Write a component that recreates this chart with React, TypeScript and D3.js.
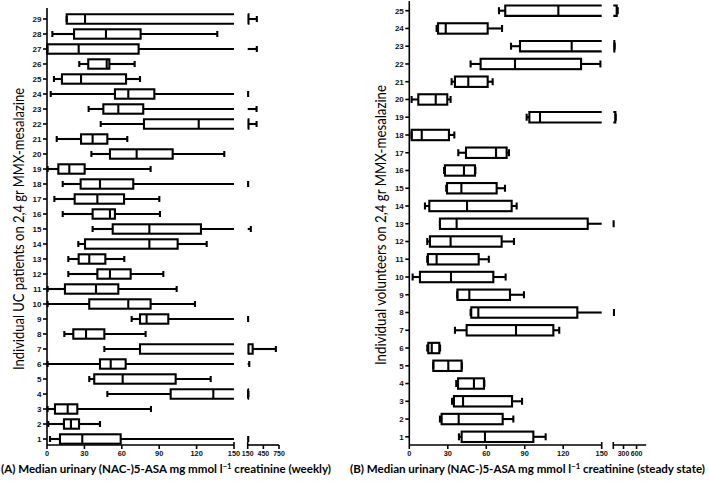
import React from "react";
import * as d3 from "d3";

// ---------- Panel A: individual UC patients (weekly) ----------
const ucPatients = [1, 2, 3, 4, 5, 6, 7, 8, 9, 10, 11, 12, 13, 14, 15, 16, 17, 18, 19, 20, 21, 22, 23, 24, 25, 26, 27, 28, 29];
const ucMin = [2.4, 1.0, 0.5, 48.4, 33.9, 0.5, 46.0, 13.9, 67.9, 0.5, 0.5, 17.1, 17.1, 25.1, 36.6, 12.6, 5.9, 12.6, 0.5, 35.6, 7.8, 43.1, 33.4, 3.0, 5.6, 25.9, 0.3, 4.3, 15.8];
const ucQ1 = [10.4, 13.6, 6.4, 99.2, 37.9, 42.5, 74.6, 21.1, 74.6, 33.9, 14.4, 40.4, 25.4, 30.5, 52.7, 36.6, 22.2, 27.0, 9.1, 50.5, 27.3, 77.8, 45.2, 54.5, 12.0, 33.1, 0.3, 21.7, 15.8];
const ucMed = [28.3, 19.2, 16.6, 133.4, 60.7, 51.1, 165, 31.3, 79.9, 65.2, 39.3, 50.5, 33.9, 82.1, 82.1, 50.5, 40.4, 42.5, 17.9, 71.9, 36.6, 121.7, 57.2, 65.2, 27.3, 47.9, 25.4, 47.3, 30.5];
const ucQ3 = [59.1, 25.7, 24.3, 158, 103.2, 63.1, 245, 46.0, 97.3, 83.1, 57.2, 67.1, 46.8, 104.8, 123.5, 54.5, 61.8, 69.2, 30.2, 100.8, 48.4, 165, 77.2, 86.1, 63.4, 50.0, 73.5, 75.1, 165];
const ucMax = [160, 42.5, 83.4, 163, 131.3, 180, 690, 79.1, 158, 118.7, 104.0, 93.3, 62.0, 128.1, 210, 90.6, 90.1, 158, 83.1, 142.2, 64.4, 320, 320, 158, 74.6, 70.3, 325, 136.6, 325];

// ---------- Panel B: individual volunteers (steady state) ----------
const volunteers = [1, 2, 3, 4, 5, 6, 7, 8, 9, 10, 11, 12, 13, 14, 15, 16, 17, 18, 19, 20, 21, 22, 23, 24, 25];
const volMin = [38.7, 23.9, 33.3, 36.6, 18.7, 14.0, 35.6, 47.8, 37.4, 2.6, 14.0, 14.0, 23.9, 12.2, 28.8, 27.1, 38.2, 1.8, 91.5, 1.8, 33.0, 47.8, 79.3, 21.3, 69.9];
const volQ1 = [40.8, 25.2, 34.8, 38.0, 18.7, 14.8, 44.7, 48.3, 37.5, 8.3, 14.5, 16.1, 23.9, 15.6, 29.4, 27.8, 44.2, 1.8, 93.6, 7.0, 35.6, 55.6, 86.3, 22.4, 74.8];
const volMed = [59.0, 38.5, 41.9, 50.4, 30.4, 17.5, 83.2, 53.8, 46.8, 32.5, 21.3, 32.2, 36.9, 45.0, 40.6, 42.6, 67.6, 9.7, 101.9, 20.6, 46.0, 82.4, 126.6, 28.4, 116.2];
const volQ3 = [96.7, 72.8, 80.1, 58.2, 40.8, 23.4, 112.3, 131, 78.5, 65.5, 54.1, 72.0, 139.1, 79.8, 68.1, 51.2, 75.9, 30.9, 180, 29.6, 61.1, 133.9, 165, 61.1, 200];
const volMax = [106.3, 81.1, 87.9, 58.5, 41, 24, 116.9, 160, 89.4, 75.1, 62, 81.6, 155, 83.7, 74.6, 51.5, 77.7, 35.1, 185, 32.2, 65.0, 149, 170, 72.3, 215];

// ---------- axis ticks ----------
const mainTicks = [0, 30, 60, 90, 120, 150];
const brkTicksA = [150, 450, 750];
const brkLabelsA = ["150", "450", "750"];
const brkTicksB = [150, 300, 600];
const brkLabelsB = ["", "300", "600"];

const BREAK = 150;

type PanelProps = {
  ids: number[];
  mins: number[];
  q1s: number[];
  meds: number[];
  q3s: number[];
  maxs: number[];
  x: d3.ScaleLinear<number, number>;
  x2: d3.ScaleLinear<number, number>;
  y: d3.ScaleLinear<number, number>;
  halfH: number;
  capH: number;
  axisTop: number;
  axisY: number;
  brkTicks: number[];
  brkLabels: string[];
  brkEnd: number;
};

function Panel(p: PanelProps) {
  const sw = 2.1;
  const axisX = p.x(0);
  const tickFont = { fontFamily: "'Liberation Sans', Arial, sans-serif", fontWeight: 700 as const, fill: "#111" };
  return (
    <g>
      {p.ids.map((id, i) => {
        const cy = p.y(id);
        const mn = p.mins[i], q1 = p.q1s[i], md = p.meds[i], q3 = p.q3s[i], mx = p.maxs[i];
        const t = cy - p.halfH, b = cy + p.halfH;
        const els: React.ReactNode[] = [];
        if (mn < q1) {
          els.push(<line key="lw" x1={p.x(mn)} x2={p.x(q1)} y1={cy} y2={cy} />);
        }
        els.push(<line key="lc" x1={p.x(mn)} x2={p.x(mn)} y1={cy - p.capH} y2={cy + p.capH} />);
        if (q3 <= BREAK) {
          els.push(<rect key="bx" x={p.x(q1)} y={t} width={p.x(q3) - p.x(q1)} height={b - t} fill="none" />);
        } else {
          const xr = p.x(BREAK);
          els.push(<path key="bx" d={`M${xr},${t}L${p.x(q1)},${t}L${p.x(q1)},${b}L${xr},${b}`} fill="none" />);
        }
        if (md <= BREAK) {
          els.push(<line key="md" x1={p.x(md)} x2={p.x(md)} y1={t} y2={b} />);
        }
        if (q3 < BREAK && mx > q3) {
          els.push(<line key="rw" x1={p.x(q3)} x2={p.x(Math.min(mx, BREAK))} y1={cy} y2={cy} />);
        }
        if (mx <= BREAK) {
          els.push(<line key="rc" x1={p.x(mx)} x2={p.x(mx)} y1={cy - p.capH} y2={cy + p.capH} />);
        }
        if (q3 > BREAK) {
          const xl = p.x2(BREAK);
          els.push(<path key="bx2" d={`M${xl},${t}L${p.x2(q3)},${t}L${p.x2(q3)},${b}L${xl},${b}`} fill="none" />);
          if (md > BREAK) {
            els.push(<line key="md2" x1={p.x2(md)} x2={p.x2(md)} y1={t} y2={b} />);
          }
        }
        if (mx > BREAK) {
          const s = Math.max(q3, BREAK);
          if (mx > s) els.push(<line key="rw2" x1={p.x2(s)} x2={p.x2(mx)} y1={cy} y2={cy} />);
          els.push(<line key="rc2" x1={p.x2(mx)} x2={p.x2(mx)} y1={cy - p.capH} y2={cy + p.capH} />);
        }
        return (
          <g key={id} stroke="#000" strokeWidth={sw} fill="none">
            {els}
          </g>
        );
      })}

      {/* y axis */}
      <g stroke="#000" strokeWidth={1.6}>
        <line x1={axisX} x2={axisX} y1={p.axisTop} y2={p.axisY} />
        {p.ids.map((id) => (
          <line key={id} x1={axisX - 4} x2={axisX} y1={p.y(id)} y2={p.y(id)} />
        ))}
      </g>
      {p.ids.map((id) => (
        <text key={id} x={axisX - 5.5} y={p.y(id)} dy="0.35em" textAnchor="end" fontSize={8} {...tickFont}>
          {id}
        </text>
      ))}

      {/* x axis */}
      <g stroke="#000" strokeWidth={1.6}>
        <line x1={p.x(0)} x2={p.x(BREAK)} y1={p.axisY} y2={p.axisY} />
        {mainTicks.map((v) => (
          <line key={v} x1={p.x(v)} x2={p.x(v)} y1={v === BREAK ? p.axisY - 3 : p.axisY} y2={p.axisY + 4} />
        ))}
        <line x1={p.x2(BREAK)} x2={p.x2(p.brkEnd)} y1={p.axisY} y2={p.axisY} />
        {p.brkTicks.map((v, i) => (
          <line key={"b" + v} x1={p.x2(v)} x2={p.x2(v)} y1={i === 0 ? p.axisY - 3 : p.axisY} y2={p.axisY + 4} />
        ))}
      </g>
      {mainTicks.map((v) => (
        <text key={v} x={p.x(v)} y={p.axisY + 10.5} textAnchor="middle" fontSize={7.4} {...tickFont}>
          {v}
        </text>
      ))}
      {p.brkTicks.map((v, i) => (
        <text key={"bl" + v} x={p.x2(v)} y={p.axisY + 10.5} textAnchor="middle" fontSize={7} {...tickFont}>
          {p.brkLabels[i]}
        </text>
      ))}
    </g>
  );
}

export default function App() {
  const W = 709, H = 482;

  const xA = d3.scaleLinear().domain([0, 150]).range([47, 234]);
  const x2A = d3.scaleLinear().domain([150, 750]).range([247.7, 279]);
  const yA = d3.scaleLinear().domain([1, 29]).range([439, 19]);

  const xB = d3.scaleLinear().domain([0, 150]).range([409.3, 601.7]);
  const x2B = d3.scaleLinear().domain([150, 300, 850]).range([613.3, 623.5, 647.5]);
  const yB = d3.scaleLinear().domain([1, 25]).range([436.8, 10.7]);

  const yTitleFont = { fontFamily: "Lato, 'Open Sans', sans-serif", fill: "#000" };
  const xTitleFont = { fontFamily: "Lato, 'Open Sans', sans-serif", fill: "#000" };

  return (
    <svg width={W} height={H} style={{ position: "absolute", left: 0, top: 0, background: "#fff" }}>
      <rect width={W} height={H} fill="#fff" />
      <Panel
        ids={ucPatients}
        mins={ucMin}
        q1s={ucQ1}
        meds={ucMed}
        q3s={ucQ3}
        maxs={ucMax}
        x={xA}
        x2={x2A}
        y={yA}
        halfH={4.7}
        capH={3}
        axisTop={8}
        axisY={445}
        brkTicks={brkTicksA}
        brkLabels={brkLabelsA}
        brkEnd={750}
      />
      <Panel
        ids={volunteers}
        mins={volMin}
        q1s={volQ1}
        meds={volMed}
        q3s={volQ3}
        maxs={volMax}
        x={xB}
        x2={x2B}
        y={yB}
        halfH={5.2}
        capH={3.5}
        axisTop={1}
        axisY={445}
        brkTicks={brkTicksB}
        brkLabels={brkLabelsB}
        brkEnd={820}
      />

      {/* y axis titles */}
      <text
        transform="translate(24,229) rotate(-90)"
        textAnchor="middle"
        fontSize={15}
        textLength={282}
        lengthAdjust="spacingAndGlyphs"
        {...yTitleFont}
      >
        Individual UC patients on 2,4 gr MMX-mesalazine
      </text>
      <text
        transform="translate(386,225) rotate(-90)"
        textAnchor="middle"
        fontSize={15}
        textLength={280}
        lengthAdjust="spacingAndGlyphs"
        {...yTitleFont}
      >
        Individual volunteers on 2,4 gr MMX-mesalazine
      </text>

      {/* x axis titles */}
      <text x={1} y={473} fontSize={12} fontWeight={700} textLength={330} lengthAdjust="spacingAndGlyphs" {...xTitleFont}>
        (A) Median urinary (NAC-)5-ASA mg mmol l
        <tspan dy={-4} fontSize={8}>−1</tspan>
        <tspan dy={4}> creatinine (weekly)</tspan>
      </text>
      <text x={350} y={473} fontSize={12} fontWeight={700} textLength={355} lengthAdjust="spacingAndGlyphs" {...xTitleFont}>
        (B) Median urinary (NAC-)5-ASA mg mmol l
        <tspan dy={-4} fontSize={8}>−1</tspan>
        <tspan dy={4}> creatinine (steady state)</tspan>
      </text>
    </svg>
  );
}
